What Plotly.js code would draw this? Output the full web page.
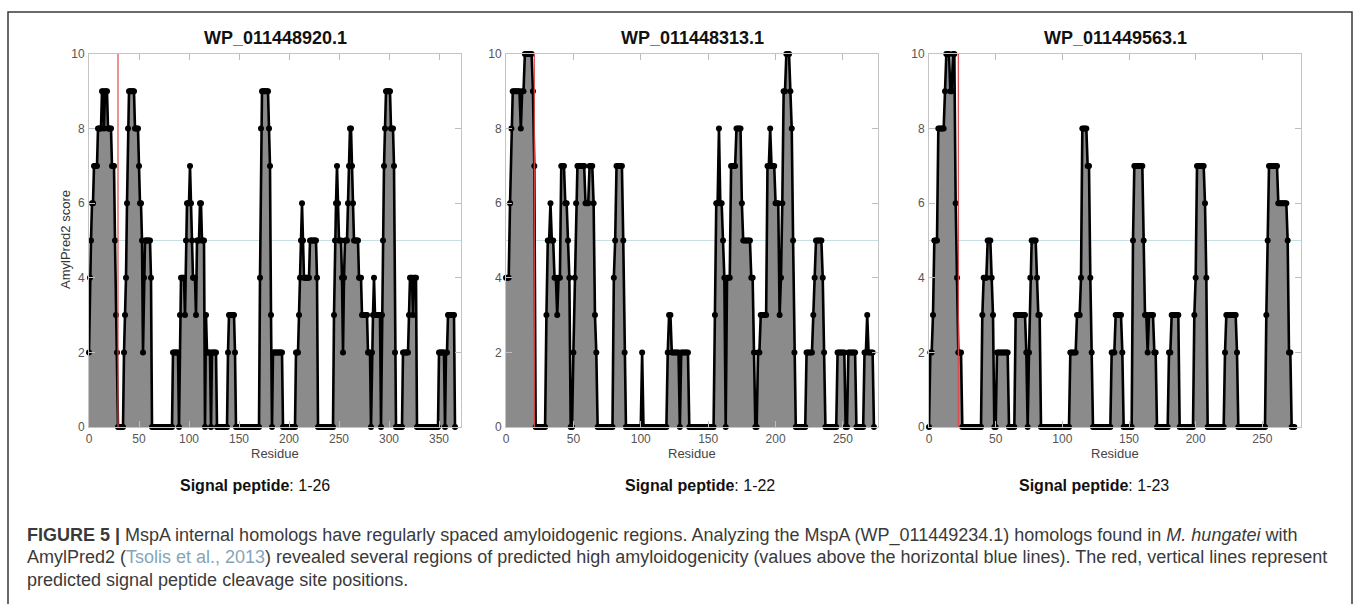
<!DOCTYPE html>
<html>
<head>
<meta charset="utf-8">
<script src="https://cdn.plot.ly/plotly-3.0.1.min.js"></script>
<style>
html,body{margin:0;padding:0;background:#ffffff;}
#chart{width:1357px;height:604px;}
</style>
</head>
<body>
<div id="chart"></div>
<script>
// ---------------- data ----------------
const panelTitles = ['WP_011448920.1', 'WP_011448313.1', 'WP_011449563.1'];
const signalPeptides = ['1-26', '1-22', '1-23'];
const cleavageSites = [29, 21, 22];
const threshold = 5;
const xTickValues = [
  [0, 50, 100, 150, 200, 250, 300, 350],
  [0, 50, 100, 150, 200, 250],
  [0, 50, 100, 150, 200, 250]
];
const yTickValues = [0, 2, 4, 6, 8, 10];
const xMax = [372, 276, 279];

// AmylPred2 score per residue (residue 0 ... N-1)
const scoresWP920 = [
  2,4,5,6,6,7,7,7,7,8,8,8,8,9,9,8,9,9,9,8,8,8,8,7,7,7,5,3,2,
  0,0,0,0,0,0,
  2,3,4,6,8,9,9,9,9,9,9,8,8,8,8,7,6,6,5,2,4,5,5,5,5,5,5,4,
  0,0,0,0,0,0,0,0,0,0,0,0,0,0,0,0,0,0,0,0,0,
  2,2,2,2,2,2,0,3,4,4,4,4,3,5,6,6,6,7,6,5,4,4,4,3,5,5,5,6,6,5,5,5,0,3,2,2,2,2,0,2,2,2,2,2,
  0,0,0,0,0,0,0,0,0,0,0,
  2,3,3,3,3,3,3,2,
  0,0,0,0,0,0,0,0,0,0,0,0,0,0,0,0,0,0,0,0,0,0,0,0,
  4,8,9,9,9,9,9,9,9,8,7,3,0,
  2,2,2,2,2,2,2,2,2,2,
  0,0,0,0,0,0,0,0,0,0,0,0,0,
  2,2,2,3,4,5,6,5,4,4,4,4,4,4,5,5,5,5,5,5,5,4,
  0,0,0,0,0,0,0,0,0,0,0,0,0,0,0,0,
  3,5,6,7,6,5,5,5,4,2,4,5,5,5,6,7,8,8,7,6,5,5,5,5,5,4,4,4,3,3,3,3,3,3,2,2,2,0,2,3,4,3,3,3,3,3,3,0,3,5,7,8,9,9,9,9,9,8,8,8,7,2,
  0,0,0,0,0,0,0,2,2,2,2,2,2,3,4,4,4,3,4,4,4,
  0,0,0,0,0,0,0,0,0,0,0,0,0,0,0,0,0,0,0,0,0,0,
  2,2,2,2,2,2,0,2,2,3,3,3,3,3,3,3,0
];
const scoresWP313 = [
  4,4,4,6,8,9,9,9,9,9,9,8,9,9,10,10,10,10,10,10,9,7,
  0,0,0,0,0,0,0,0,
  3,5,5,6,5,5,
  4,4,3,4,4,7,7,7,6,6,5,4,0,0,2,4,6,
  7,7,7,7,7,7,6,6,6,7,7,7,6,3,2,
  0,0,0,0,0,0,0,0,0,0,0,0,
  4,5,7,7,7,7,7,5,2,
  0,0,0,0,0,0,0,0,0,0,0,0,
  2,
  0,0,0,0,0,0,0,0,0,0,0,0,0,0,0,0,0,0,
  2,3,3,2,2,2,2,2,2,0,2,2,2,2,2,2,
  0,0,0,0,0,0,0,0,0,0,0,0,0,0,0,0,0,0,0,
  3,6,6,8,6,6,5,4,0,4,4,4,7,7,7,7,8,8,8,8,6,5,5,5,5,5,5,4,4,2,0,0,2,2,3,3,3,3,3,
  7,7,8,7,7,7,6,6,6,3,4,6,9,9,10,10,10,9,8,5,2,
  0,0,0,0,0,0,0,0,
  2,2,2,2,2,3,4,5,5,5,5,5,4,2,
  0,0,0,0,0,0,0,0,0,
  2,2,2,2,2,2,0,0,2,2,2,2,2,2,
  0,0,0,0,0,0,
  2,2,3,2,2,2,2,0
];
const scoresWP563 = [
  0,2,2,3,5,5,5,8,8,8,8,8,9,10,10,10,9,9,10,10,6,4,2,2,2,
  0,0,0,0,0,0,0,0,0,0,0,0,0,0,0,
  3,4,4,4,5,5,5,4,3,0,0,2,2,2,2,2,2,2,2,2,
  0,0,0,0,0,
  3,3,3,3,3,3,3,3,2,0,2,4,5,5,5,5,4,3,3,
  0,0,0,0,0,0,0,0,0,0,0,0,0,0,0,0,0,0,0,0,0,0,
  2,2,2,2,2,3,3,3,4,8,8,8,8,7,7,4,2,
  0,0,0,0,0,0,0,0,0,0,0,0,0,0,
  2,2,2,3,3,3,3,3,2,
  0,0,0,0,0,0,0,
  5,7,7,7,7,7,7,7,5,3,3,2,3,3,3,3,2,2,
  0,0,0,0,0,0,0,0,0,
  2,2,3,3,3,3,3,3,
  0,0,0,0,0,0,0,0,0,0,0,
  3,4,7,7,7,7,7,7,6,4,
  0,0,0,0,0,0,0,0,0,0,0,0,0,
  2,3,3,3,3,3,3,3,3,2,
  0,0,0,0,0,0,0,0,0,0,0,0,0,0,0,0,0,0,0,0,0,
  3,5,7,7,7,7,7,7,7,6,6,6,6,6,6,6,5,2,2,
  0,0,0
];
const allScores = [scoresWP920, scoresWP313, scoresWP563];

// ---------------- layout geometry ----------------
const W = 1357, H = 604;
const panelPx = [[89, 461], [506, 878], [929, 1301]];
const plotTop = 54, plotBottom = 427;
const fx = p => p / W;
const fy = p => 1 - p / H;
const labelCenters = [255, 700, 1094];

const FONT = 'Liberation Sans, Arial, Helvetica, sans-serif';

const traces = [];
const layout = {
  width: W, height: H,
  margin: {l: 0, r: 0, t: 0, b: 0, pad: 0},
  paper_bgcolor: '#ffffff',
  plot_bgcolor: '#ffffff',
  showlegend: false,
  font: {family: FONT, color: '#333'},
  shapes: [],
  annotations: []
};

allScores.forEach((scores, k) => {
  const n = k + 1;
  const xa = n === 1 ? 'x' : 'x' + n;
  const ya = n === 1 ? 'y' : 'y' + n;
  const residues = scores.map((_, i) => i);
  traces.push({
    type: 'scatter',
    mode: 'lines+markers',
    x: residues,
    y: scores,
    xaxis: xa, yaxis: ya,
    fill: 'tozeroy',
    fillcolor: '#8b8b8b',
    line: {color: '#000000', width: 2.6, shape: 'linear'},
    marker: {color: '#000000', size: 6},
    cliponaxis: false,
    hoverinfo: 'skip'
  });
  const axCommon = {
    showline: true, linecolor: '#c4c4c4', linewidth: 1,
    mirror: 'ticks', ticks: 'inside', ticklen: 6, tickwidth: 1, tickcolor: '#bdbdbd',
    showgrid: false, zeroline: false,
    tickfont: {family: FONT, size: 12, color: '#555555'},
    fixedrange: true
  };
  layout['xaxis' + (n === 1 ? '' : n)] = Object.assign({}, axCommon, {
    domain: [fx(panelPx[k][0]), fx(panelPx[k][1])],
    range: [0, xMax[k]],
    anchor: ya,
    tickmode: 'array', tickvals: xTickValues[k],
    ticklabelstandoff: 1
  });
  layout['yaxis' + (n === 1 ? '' : n)] = Object.assign({}, axCommon, {
    domain: [fy(plotBottom), fy(plotTop)],
    range: [0, 10],
    anchor: xa,
    tickmode: 'array', tickvals: yTickValues,
    ticklabelstandoff: 1
  });
  // threshold line (blue) and cleavage site (red)
  layout.shapes.push({
    type: 'line', xref: xa + ' domain', yref: ya,
    x0: 0, x1: 1, y0: threshold, y1: threshold,
    line: {color: '#c9dfe8', width: 1}, layer: 'below'
  });
  layout.shapes.push({
    type: 'line', xref: xa, yref: ya,
    x0: cleavageSites[k], x1: cleavageSites[k], y0: 0, y1: 10,
    line: {color: '#e2474b', width: 1.2}, layer: 'above'
  });
  const cx = (panelPx[k][0] + panelPx[k][1]) / 2;
  layout.annotations.push({
    xref: 'paper', yref: 'paper', x: fx(cx), y: fy(38),
    xanchor: 'center', yanchor: 'middle', showarrow: false,
    text: '<b>' + panelTitles[k] + '</b>',
    font: {family: FONT, size: 18, color: '#111111'}
  });
  layout.annotations.push({
    xref: 'paper', yref: 'paper', x: fx(cx), y: fy(453),
    xanchor: 'center', yanchor: 'middle', showarrow: false,
    text: 'Residue',
    font: {family: FONT, size: 13, color: '#444444'}
  });
  layout.annotations.push({
    xref: 'paper', yref: 'paper', x: fx(labelCenters[k]), y: fy(485),
    xanchor: 'center', yanchor: 'middle', showarrow: false,
    text: '<b>Signal peptide</b>: ' + signalPeptides[k],
    font: {family: FONT, size: 16, color: '#111111'}
  });
});

// y-axis title
layout.annotations.push({
  xref: 'paper', yref: 'paper', x: fx(65), y: fy(240),
  xanchor: 'center', yanchor: 'middle', showarrow: false, textangle: -90,
  text: 'AmylPred2 score',
  font: {family: FONT, size: 13, color: '#333333'}
});

// caption
const captionLines = [
  '<b>FIGURE 5 |</b> MspA internal homologs have regularly spaced amyloidogenic regions. Analyzing the MspA (WP_011449234.1) homologs found in <i>M. hungatei</i> with',
  'AmylPred2 (<span style="color:#86a5b8">Tsolis et al., 2013</span>) revealed several regions of predicted high amyloidogenicity (values above the horizontal blue lines). The red, vertical lines represent',
  'predicted signal peptide cleavage site positions.'
];
const captionY = [535, 557, 580];
captionLines.forEach((t, i) => {
  layout.annotations.push({
    xref: 'paper', yref: 'paper', x: fx(25), y: fy(captionY[i]),
    xanchor: 'left', yanchor: 'middle', showarrow: false, align: 'left',
    text: t,
    font: {family: FONT, size: 18, color: '#3a3a3a'}
  });
});

// outer frame
layout.shapes.push({
  type: 'rect', xref: 'paper', yref: 'paper',
  x0: fx(8), x1: fx(1352), y0: -0.05, y1: fy(12),
  line: {color: '#3a3a3a', width: 1.5}, fillcolor: 'rgba(0,0,0,0)', layer: 'above'
});

Plotly.newPlot('chart', traces, layout, {displayModeBar: false, staticPlot: true});
</script>
</body>
</html>
